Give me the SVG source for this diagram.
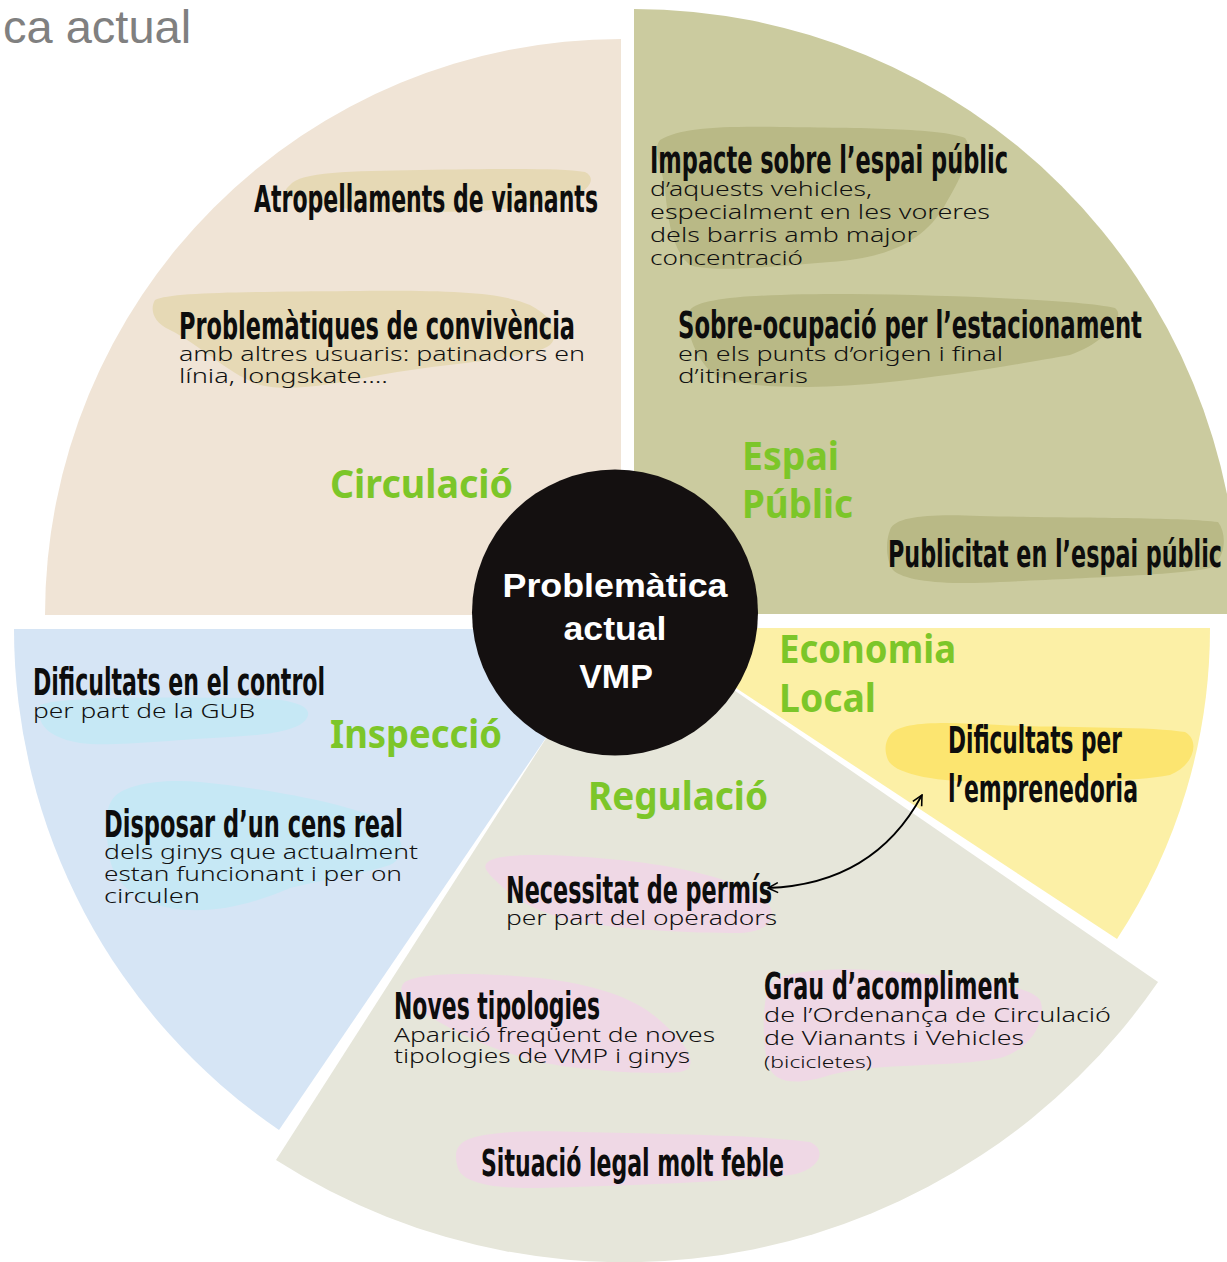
<svg xmlns="http://www.w3.org/2000/svg" width="1227" height="1262" viewBox="0 0 1227 1262">
<defs>
<style>
.t{font-family:"DejaVu Sans Condensed","Liberation Sans Narrow","Roboto Condensed","Liberation Sans",sans-serif;font-weight:bold;font-size:37px;fill:#0d0d0d}
.s{font-family:"Noto Sans","DejaVu Sans",sans-serif;font-weight:300;font-size:20px;fill:#111}
.g{font-family:"Noto Sans","Open Sans",sans-serif;font-weight:bold;font-size:40px;fill:#7CC629}
.c{font-family:"Liberation Sans",Arial,sans-serif;font-weight:bold;font-size:34px;fill:#fff;text-anchor:middle}
.bt{fill:#E6D9B5}.bo{fill:#B9B986}.bc{fill:#C6E8F5}.by{fill:#FCE570}.bp{fill:#EFD8E5}
</style>
<marker id="ah" viewBox="0 0 12 12" refX="11" refY="6" markerWidth="12" markerHeight="12" markerUnits="userSpaceOnUse" orient="auto-start-reverse">
<path d="M1,1 L11,6 L1,11" fill="none" stroke="#000" stroke-width="1.6"/>
</marker>
</defs>
<rect width="1227" height="1262" fill="#fff"/>
<text x="3" y="43" style="font-family:'Liberation Sans',Arial,sans-serif;font-size:47px;fill:#808080">ca actual</text>

<g id="circulacio">
<path d="M621,615 L45,615 A576,576 0 0 1 621,39 Z" fill="#F0E4D6"/>
<path class="bt" d="M290,185 C300,172 350,171 420,170 C500,169 560,168 585,172 C597,178 590,190 570,198 C540,205 500,212 440,212 C380,213 320,208 295,200 C283,195 284,190 290,185 Z"/>
<path class="bt" d="M155,300 C170,292 250,292 350,291 C450,290 500,292 530,305 C555,318 560,335 550,345 C530,360 450,362 380,375 C330,385 290,392 260,385 C230,375 200,345 170,330 C152,322 150,308 155,300 Z"/>
<text class="t" x="254" y="212" textLength="344" lengthAdjust="spacingAndGlyphs">Atropellaments de vianants</text>
<text class="t" x="179" y="339" textLength="396" lengthAdjust="spacingAndGlyphs">Problemàtiques de convivència</text>
<text class="s" x="179" y="361" textLength="406" lengthAdjust="spacingAndGlyphs">amb altres usuaris: patinadors en</text>
<text class="s" x="179" y="383" textLength="209" lengthAdjust="spacingAndGlyphs">línia, longskate....</text>
<text class="g" x="330" y="498" textLength="183" lengthAdjust="spacingAndGlyphs">Circulació</text>
</g>

<g id="espai-public">
<path d="M634,614 L634,9 A605,605 0 0 1 1239,614 Z" fill="#CBCB9F"/>
<path class="bo" d="M660,140 C680,128 720,126 780,127 C860,128 940,128 965,138 C975,150 960,180 945,205 C925,240 890,258 830,262 C760,268 710,272 690,265 C672,250 668,220 665,190 C662,165 652,150 660,140 Z"/>
<path class="bo" d="M690,310 C700,297 760,294 850,294 C950,295 1080,300 1115,308 C1128,318 1100,345 1070,355 C1030,362 960,375 880,383 C800,390 740,388 715,375 C695,360 683,325 690,310 Z"/>
<path class="bo" d="M890,530 C895,516 930,514 980,516 C1060,518 1180,517 1218,522 C1228,535 1225,560 1210,568 C1180,575 1080,578 1000,582 C950,585 905,582 893,570 C885,558 886,540 890,530 Z"/>
<text class="t" x="650" y="173" textLength="358" lengthAdjust="spacingAndGlyphs">Impacte sobre l’espai públic</text>
<text class="s" x="650" y="196" textLength="222" lengthAdjust="spacingAndGlyphs">d’aquests vehicles,</text>
<text class="s" x="650" y="219" textLength="340" lengthAdjust="spacingAndGlyphs">especialment en les voreres</text>
<text class="s" x="650" y="242" textLength="267" lengthAdjust="spacingAndGlyphs">dels barris amb major</text>
<text class="s" x="650" y="265" textLength="153" lengthAdjust="spacingAndGlyphs">concentració</text>
<text class="t" x="678" y="338" textLength="464" lengthAdjust="spacingAndGlyphs">Sobre-ocupació per l’estacionament</text>
<text class="s" x="678" y="361" textLength="325" lengthAdjust="spacingAndGlyphs">en els punts d’origen i final</text>
<text class="s" x="678" y="383" textLength="130" lengthAdjust="spacingAndGlyphs">d’itineraris</text>
<text class="g" x="742" y="470" textLength="97" lengthAdjust="spacingAndGlyphs">Espai</text>
<text class="g" x="742" y="518" textLength="111" lengthAdjust="spacingAndGlyphs">Públic</text>
<text class="t" x="888" y="567" textLength="334" lengthAdjust="spacingAndGlyphs">Publicitat en l’espai públic</text>
</g>

<g id="inspeccio">
<path d="M620,629 L14,629 A606,606 0 0 0 279,1130 Z" fill="#D6E5F5"/>
<path class="bc" d="M40,705 C60,697 150,697 250,698 C290,699 310,705 308,715 C305,730 270,735 230,737 C170,740 110,747 80,743 C50,738 35,725 40,705 Z"/>
<path class="bc" d="M112,800 C120,785 160,778 200,782 C260,788 330,800 370,815 C405,830 410,855 390,865 C360,875 320,880 290,888 C250,905 210,915 170,908 C130,900 115,880 110,860 C105,830 105,810 112,800 Z"/>
<text class="t" x="33" y="695" textLength="292" lengthAdjust="spacingAndGlyphs">Dificultats en el control</text>
<text class="s" x="33" y="718" textLength="222" lengthAdjust="spacingAndGlyphs">per part de la GUB</text>
<text class="g" x="330" y="748" textLength="172" lengthAdjust="spacingAndGlyphs">Inspecció</text>
<text class="t" x="104" y="837" textLength="299" lengthAdjust="spacingAndGlyphs">Disposar d’un cens real</text>
<text class="s" x="104" y="859" textLength="314" lengthAdjust="spacingAndGlyphs">dels ginys que actualment</text>
<text class="s" x="104" y="881" textLength="298" lengthAdjust="spacingAndGlyphs">estan funcionant i per on</text>
<text class="s" x="104" y="903" textLength="96" lengthAdjust="spacingAndGlyphs">circulen</text>
</g>

<g id="regulacio">
<path d="M625,615 L1158,982 A647,647 0 0 1 276,1160 Z" fill="#E6E6DA"/>
<path class="bp" d="M488,862 C500,852 560,854 620,860 C680,866 740,880 765,900 C780,915 770,932 740,933 C690,933 620,930 570,920 C530,910 510,895 495,880 C485,870 483,866 488,862 Z"/>
<path class="bp" d="M405,982 C420,972 480,972 540,978 C600,985 640,1000 665,1025 C690,1048 700,1068 680,1072 C640,1075 580,1070 540,1062 C490,1050 450,1030 420,1010 C400,998 398,988 405,982 Z"/>
<path class="bp" d="M770,985 C780,970 840,966 900,972 C970,978 1030,985 1040,1000 C1048,1020 1030,1050 1000,1058 C950,1068 880,1062 830,1075 C800,1085 775,1085 768,1065 C762,1040 762,1000 770,985 Z"/>
<path class="bp" d="M460,1145 C470,1132 520,1130 580,1132 C660,1134 760,1135 810,1142 C828,1150 820,1170 790,1175 C730,1182 620,1186 540,1188 C490,1189 462,1182 458,1168 C455,1158 455,1150 460,1145 Z"/>
<text class="g" x="588" y="810" textLength="180" lengthAdjust="spacingAndGlyphs">Regulació</text>
<text class="t" x="506" y="903" textLength="266" lengthAdjust="spacingAndGlyphs">Necessitat de permís</text>
<text class="s" x="506" y="925" textLength="271" lengthAdjust="spacingAndGlyphs">per part del operadors</text>
<text class="t" x="394" y="1019" textLength="206" lengthAdjust="spacingAndGlyphs">Noves tipologies</text>
<text class="s" x="394" y="1042" textLength="321" lengthAdjust="spacingAndGlyphs">Aparició freqüent de noves</text>
<text class="s" x="394" y="1063" textLength="296" lengthAdjust="spacingAndGlyphs">tipologies de VMP i ginys</text>
<text class="t" x="764" y="999" textLength="255" lengthAdjust="spacingAndGlyphs">Grau d’acompliment</text>
<text class="s" x="764" y="1022" textLength="347" lengthAdjust="spacingAndGlyphs">de l’Ordenança de Circulació</text>
<text class="s" x="764" y="1045" textLength="260" lengthAdjust="spacingAndGlyphs">de Vianants i Vehicles</text>
<text class="s" x="764" y="1068" style="font-size:16px" textLength="108" lengthAdjust="spacingAndGlyphs">(bicicletes)</text>
<text class="t" x="481" y="1176" textLength="303" lengthAdjust="spacingAndGlyphs">Situació legal molt feble</text>
</g>

<g id="economia-local">
<path d="M645,628 L1210,628 A565,565 0 0 1 1117,939 Z" fill="#FCF0A6"/>
<path class="by" d="M890,735 C900,720 950,722 1000,725 C1060,728 1150,726 1185,732 C1200,740 1195,765 1170,775 C1130,783 1060,780 1000,782 C940,783 895,775 888,760 C884,750 885,742 890,735 Z"/>
<text class="g" x="779" y="663" textLength="177" lengthAdjust="spacingAndGlyphs">Economia</text>
<text class="g" x="779" y="712" textLength="97" lengthAdjust="spacingAndGlyphs">Local</text>
<text class="t" x="948" y="753" textLength="174" lengthAdjust="spacingAndGlyphs">Dificultats per</text>
<text class="t" x="948" y="802" textLength="190" lengthAdjust="spacingAndGlyphs">l’emprenedoria</text>
</g>

<g id="centre">
<circle cx="615" cy="612.5" r="143" fill="#141010"/>
<text class="c" x="615" y="597" textLength="225" lengthAdjust="spacingAndGlyphs">Problemàtica</text>
<text class="c" x="615" y="640" textLength="103" lengthAdjust="spacingAndGlyphs">actual</text>
<text class="c" x="616" y="688">VMP</text>
</g>

<g id="connectors">
<path d="M768,888 C850,885 895,845 922,795" fill="none" stroke="#000" stroke-width="1.8" marker-start="url(#ah)" marker-end="url(#ah)"/>
</g>
</svg>
